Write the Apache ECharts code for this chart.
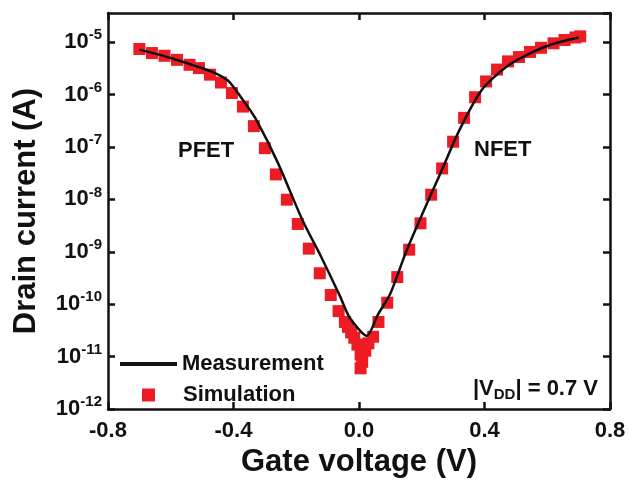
<!DOCTYPE html>
<html>
<head>
<meta charset="utf-8">
<style>
  html, body { margin: 0; padding: 0; background: #fff; }
  #chart { width: 629px; height: 483px; }
</style>
<script src="https://cdn.jsdelivr.net/npm/echarts@6/dist/echarts.min.js"></script>
</head>
<body>
<div id="chart"></div>
<script>
// simulation points (gate voltage V, drain current A)
const vgSim = [-0.70, -0.66, -0.62, -0.58, -0.54, -0.51, -0.475, -0.44, -0.405, -0.37,
  -0.335, -0.30, -0.265, -0.23, -0.195, -0.16, -0.125, -0.09, -0.065, -0.045,
  -0.035, -0.025, -0.015, -0.005, 0.005, 0.01, 0.005,
  0.02, 0.03, 0.045, 0.062, 0.09, 0.122, 0.16, 0.196, 0.23, 0.265,
  0.30, 0.335, 0.37, 0.405, 0.44, 0.475, 0.51, 0.545, 0.58, 0.62,
  0.655, 0.69, 0.705];
const idSim = [7.4e-6, 6.2e-6, 5.5e-6, 4.6e-6, 3.7e-6, 3.2e-6, 2.4e-6, 1.7e-6, 1.07e-6, 5.9e-7,
  2.5e-7, 9.5e-8, 3.0e-8, 9.9e-9, 3.4e-9, 1.15e-9, 3.9e-10, 1.5e-10, 7.4e-11, 4.6e-11,
  3.7e-11, 2.9e-11, 2.3e-11, 1.7e-11, 1.1e-11, 8e-12, 6e-12,
  1.3e-11, 1.8e-11, 2.4e-11, 4.6e-11, 1.07e-10, 3.3e-10, 1.1e-9, 3.5e-9, 1.23e-8, 3.9e-8,
  1.26e-7, 3.6e-7, 8.9e-7, 1.78e-6, 3.0e-6, 4.3e-6, 5.2e-6, 6.5e-6, 7.8e-6, 9.5e-6,
  1.1e-5, 1.23e-5, 1.29e-5];

// measured curve
const vgMeas = [-0.70, -0.60, -0.52, -0.46, -0.42, -0.40, -0.37, -0.33, -0.26, -0.18,
  -0.12, -0.06, -0.03, 0.025, 0.06, 0.10, 0.15, 0.20, 0.26, 0.32,
  0.39, 0.47, 0.55, 0.62, 0.70];
const idMeas = [7.2e-6, 5.0e-6, 3.5e-6, 2.6e-6, 1.9e-6, 1.4e-6, 7.9e-7, 3.5e-7, 5.2e-8, 4.0e-9,
  7.9e-10, 1.4e-10, 5.6e-11, 2.5e-11, 6.3e-11, 1.6e-10, 1.0e-9, 5.0e-9, 3.2e-8, 2.1e-7,
  1.2e-6, 3.4e-6, 6.3e-6, 9.3e-6, 1.23e-5];

const xTicks = [-0.8, -0.4, 0.0, 0.4, 0.8];
const yMin = 1e-12, yMax = 3.6e-5;

const font = "'Liberation Sans', Arial, sans-serif";
const red = "#ed1c24";
const ink = "#111";

let chart = echarts.init(document.getElementById("chart"));

let axisBase = {
  axisLine: { show: true, onZero: false, lineStyle: { color: ink, width: 2.5 } },
  axisTick: { show: true, inside: true, length: 7, lineStyle: { color: ink, width: 2.5 } },
  splitLine: { show: false }
};

let option = {
  backgroundColor: "#fff",
  animation: false,
  textStyle: { fontFamily: font },
  grid: { left: 108, right: 19, top: 13, bottom: 65 },
  legend: [
    {
      data: [{ name: "Measurement", icon: "rect" }],
      left: 120,
      top: 353,
      padding: 0,
      itemWidth: 57,
      itemHeight: 4,
      textStyle: { fontSize: 22, fontWeight: "bold", color: ink, fontFamily: font }
    },
    {
      data: [{ name: "Simulation", icon: "rect" }],
      left: 142,
      top: 384,
      padding: 0,
      itemWidth: 13,
      itemHeight: 13,
      textStyle: { fontSize: 22, fontWeight: "bold", color: ink, fontFamily: font, padding: [0, 0, 0, 23] }
    }
  ],
  xAxis: [
    Object.assign({}, axisBase, {
      type: "value",
      min: xTicks[0],
      max: xTicks[xTicks.length - 1],
      interval: 0.4,
      name: "Gate voltage (V)",
      nameLocation: "middle",
      nameGap: 34,
      nameTextStyle: { fontSize: 31, fontWeight: "bold", color: ink, fontFamily: font },
      axisLabel: {
        margin: 11,
        fontSize: 22,
        fontWeight: "bold",
        color: ink,
        fontFamily: font,
        formatter: v => v.toFixed(1)
      }
    }),
    Object.assign({}, axisBase, {
      type: "value",
      position: "top",
      min: xTicks[0],
      max: xTicks[xTicks.length - 1],
      interval: 0.4,
      axisLabel: { show: false }
    })
  ],
  yAxis: [
    Object.assign({}, axisBase, {
      type: "log",
      logBase: 10,
      min: yMin,
      max: yMax,
      name: "Drain current (A)",
      nameLocation: "middle",
      nameRotate: 90,
      nameGap: 66,
      nameTextStyle: { fontSize: 31, fontWeight: "bold", color: ink, fontFamily: font },
      axisLabel: {
        margin: 6,
        showMaxLabel: false,
        color: ink,
        formatter: v => "{b|10}{s|" + Math.round(Math.log10(v)) + "}",
        rich: {
          b: { fontSize: 22, fontWeight: "bold", color: ink, fontFamily: font },
          s: { fontSize: 15, fontWeight: "bold", color: ink, fontFamily: font, padding: [0, 0, 14, 0] }
        }
      }
    }),
    Object.assign({}, axisBase, {
      type: "log",
      logBase: 10,
      position: "right",
      min: yMin,
      max: yMax,
      axisLabel: { show: false }
    })
  ],
  graphic: [
    {
      type: "text", left: 178, top: 140,
      style: { text: "PFET", fontSize: 22, fontWeight: "bold", fill: ink, fontFamily: font }
    },
    {
      type: "text", left: 474, top: 139,
      style: { text: "NFET", fontSize: 22, fontWeight: "bold", fill: ink, fontFamily: font }
    },
    {
      type: "text", right: 31, top: 378,
      style: {
        text: "|V{sub|DD}| = 0.7 V",
        fontSize: 22, fontWeight: "bold", fill: ink, fontFamily: font,
        rich: {
          sub: { fontSize: 15, fontWeight: "bold", fill: ink, fontFamily: font, padding: [12, 0, 0, 0] }
        }
      }
    }
  ],
  series: [
    {
      name: "Measurement",
      type: "line",
      data: vgMeas.map((v, i) => [v, idMeas[i]]),
      showSymbol: false,
      symbol: "none",
      smooth: 0.25,
      z: 3,
      lineStyle: { color: ink, width: 2.5 },
      itemStyle: { color: ink }
    },
    {
      name: "Simulation",
      type: "scatter",
      data: vgSim.map((v, i) => [v, idSim[i]]),
      symbol: "rect",
      symbolSize: 12,
      z: 2,
      itemStyle: { color: red, opacity: 1 }
    }
  ]
};

chart.setOption(option);
</script>
</body>
</html>
